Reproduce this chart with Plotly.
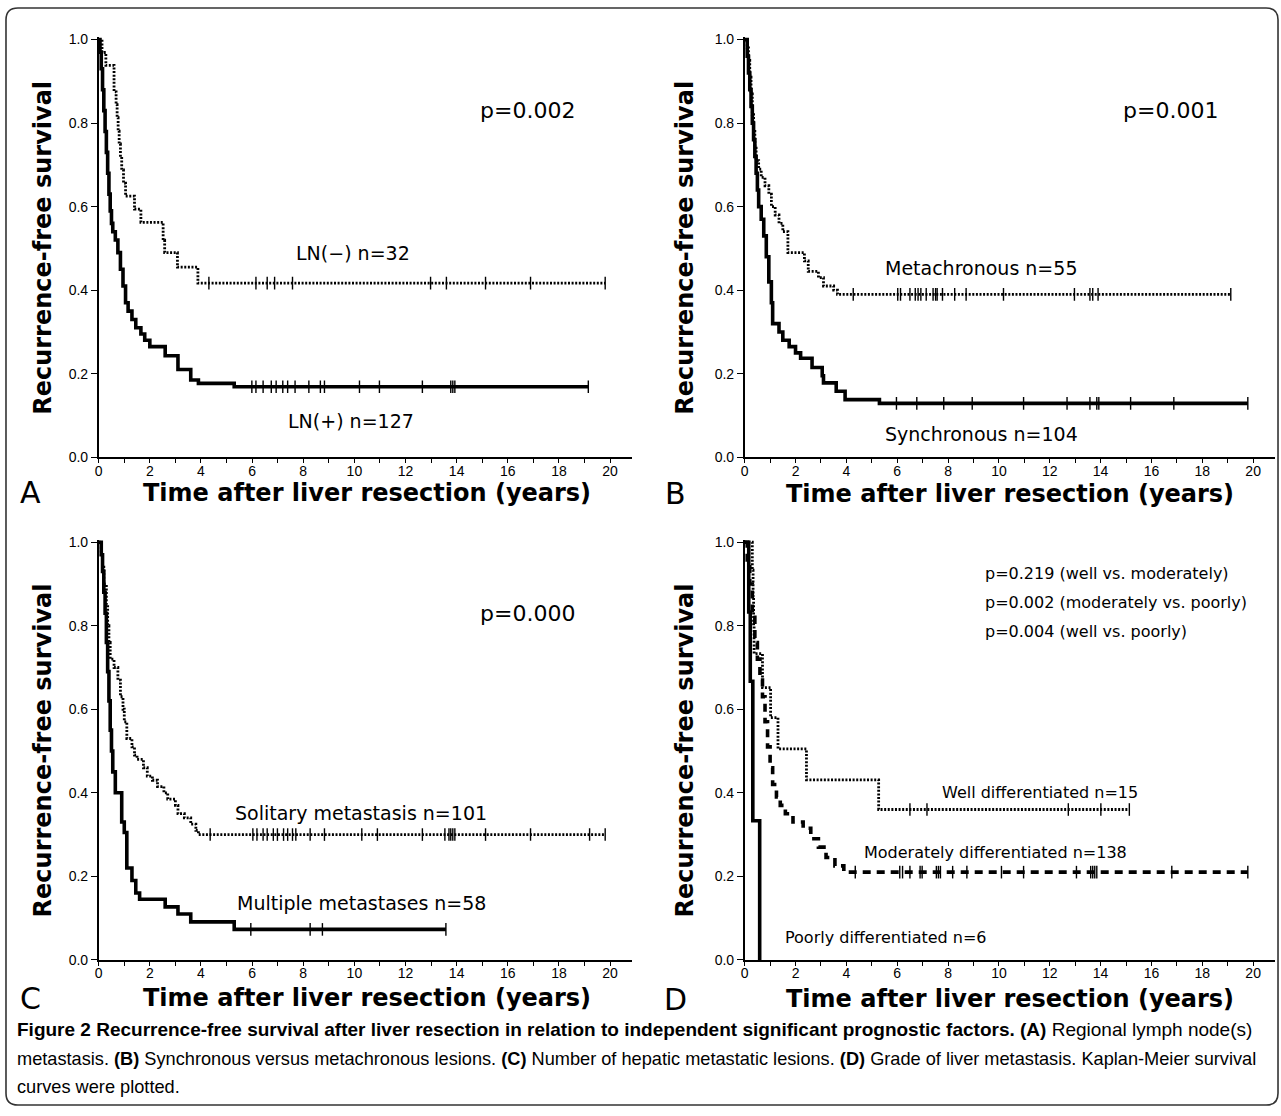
import numpy as np
import plotly.graph_objects as go
import re

W, H = 1281, 1116

# ---------------- DATA ----------------
# Panel A: lymph node metastasis
a_neg_t = [0, 0.13, 0.28, 0.60, 0.68, 0.72, 0.76, 0.80, 0.85, 0.90, 0.97, 1.05, 1.40, 1.65, 2.52, 2.58, 3.08, 3.88, 19.81]
a_neg_s = [1.0, 0.969, 0.938, 0.875, 0.844, 0.813, 0.781, 0.75, 0.719, 0.688, 0.656, 0.625, 0.594, 0.5625, 0.52, 0.49, 0.455, 0.417, 0.417]
a_neg_c = [4.31, 6.15, 6.59, 6.88, 7.58, 12.98, 13.6, 15.13, 16.89, 19.81]

a_pos_t = [0, 0.05, 0.10, 0.15, 0.20, 0.25, 0.30, 0.35, 0.40, 0.45, 0.50, 0.55, 0.65, 0.75, 0.85, 0.95, 1.05, 1.15, 1.30, 1.45, 1.65, 1.80, 2.00, 2.60, 3.10, 3.60, 3.90, 5.30, 19.15]
a_pos_s = [1.0, 0.97, 0.93, 0.88, 0.83, 0.78, 0.73, 0.68, 0.63, 0.59, 0.56, 0.54, 0.52, 0.49, 0.45, 0.41, 0.37, 0.35, 0.33, 0.31, 0.295, 0.28, 0.265, 0.243, 0.21, 0.185, 0.177, 0.169, 0.169]
a_pos_c = [5.99, 6.15, 6.43, 6.75, 6.94, 7.2, 7.39, 7.68, 8.22, 8.67, 8.83, 10.2, 10.98, 12.66, 13.77, 13.85, 13.93, 19.15]

# Panel B: synchronous vs metachronous
b_meta_t = [0, 0.10, 0.15, 0.20, 0.25, 0.30, 0.35, 0.40, 0.45, 0.55, 0.65, 0.80, 0.95, 1.05, 1.20, 1.35, 1.50, 1.70, 2.35, 2.50, 2.90, 3.10, 3.50, 3.65, 19.12]
b_meta_s = [1.0, 0.98, 0.95, 0.91, 0.87, 0.82, 0.78, 0.74, 0.71, 0.69, 0.67, 0.65, 0.63, 0.60, 0.58, 0.56, 0.54, 0.49, 0.47, 0.445, 0.43, 0.41, 0.40, 0.39, 0.39]
b_meta_c = [4.27, 6.02, 6.13, 6.5, 6.71, 6.82, 6.93, 7.14, 7.41, 7.51, 7.57, 7.78, 8.26, 8.71, 10.18, 12.97, 13.58, 13.69, 13.9, 19.12]

b_sync_t = [0, 0.10, 0.15, 0.20, 0.25, 0.30, 0.35, 0.40, 0.45, 0.50, 0.55, 0.65, 0.75, 0.85, 0.95, 1.05, 1.10, 1.35, 1.50, 1.75, 2.00, 2.20, 2.65, 3.05, 3.10, 3.60, 3.95, 5.30, 19.79]
b_sync_s = [1.0, 0.96, 0.92, 0.88, 0.84, 0.80, 0.76, 0.72, 0.68, 0.64, 0.60, 0.57, 0.53, 0.48, 0.42, 0.37, 0.32, 0.30, 0.28, 0.265, 0.25, 0.237, 0.215, 0.195, 0.178, 0.158, 0.138, 0.129, 0.129]
b_sync_c = [5.97, 6.77, 7.83, 8.95, 10.97, 12.68, 13.58, 13.85, 13.93, 15.18, 16.88, 19.79]

# Panel C: number of metastases
c_sol_t = [0, 0.10, 0.15, 0.20, 0.30, 0.35, 0.40, 0.45, 0.60, 0.75, 0.85, 0.95, 1.00, 1.10, 1.30, 1.40, 1.50, 1.75, 1.90, 2.10, 2.30, 2.55, 2.70, 3.00, 3.10, 3.35, 3.60, 3.80, 3.90, 19.81]
c_sol_s = [1.0, 0.97, 0.94, 0.90, 0.85, 0.80, 0.76, 0.72, 0.70, 0.67, 0.63, 0.60, 0.57, 0.53, 0.51, 0.49, 0.48, 0.46, 0.44, 0.43, 0.415, 0.40, 0.385, 0.37, 0.35, 0.34, 0.325, 0.31, 0.30, 0.30]
c_sol_c = [4.36, 6.03, 6.19, 6.43, 6.59, 6.83, 6.99, 7.23, 7.39, 7.58, 7.71, 8.27, 8.83, 10.29, 10.9, 12.66, 13.54, 13.7, 13.77, 13.85, 13.93, 15.13, 16.89, 19.2, 19.81]

c_mul_t = [0, 0.10, 0.15, 0.20, 0.25, 0.30, 0.35, 0.40, 0.45, 0.50, 0.55, 0.65, 0.90, 1.00, 1.10, 1.30, 1.45, 1.60, 2.60, 3.10, 3.60, 5.30, 13.58]
c_mul_s = [1.0, 0.97, 0.93, 0.88, 0.83, 0.76, 0.69, 0.62, 0.55, 0.50, 0.45, 0.40, 0.33, 0.305, 0.22, 0.19, 0.16, 0.145, 0.127, 0.11, 0.091, 0.073, 0.073]
c_mul_c = [5.95, 8.27, 8.75, 13.58]

# Panel D: grade of liver metastasis
d_well_t = [0, 0.30, 0.33, 0.35, 0.37, 0.70, 1.02, 1.31, 2.43, 5.27, 15.13]
d_well_s = [1.0, 0.933, 0.867, 0.80, 0.733, 0.652, 0.58, 0.505, 0.431, 0.36, 0.36]
d_well_c = [6.5, 7.17, 12.73, 14.01, 15.13]

d_mod_t = [0, 0.10, 0.20, 0.30, 0.40, 0.50, 0.60, 0.70, 0.80, 0.90, 1.00, 1.10, 1.25, 1.40, 1.60, 1.90, 2.30, 2.60, 2.90, 3.20, 3.55, 3.90, 19.79]
d_mod_s = [1.0, 0.95, 0.90, 0.82, 0.76, 0.72, 0.67, 0.63, 0.57, 0.51, 0.46, 0.42, 0.39, 0.37, 0.35, 0.33, 0.315, 0.29, 0.27, 0.245, 0.225, 0.21, 0.21]
d_mod_c = [4.35, 6.1, 6.21, 6.5, 6.9, 6.98, 7.54, 7.62, 7.7, 8.18, 8.74, 10.1, 10.97, 13.05, 13.61, 13.69, 13.77, 13.85, 16.8, 19.79]

d_poor_t = [0, 0.16, 0.22, 0.32, 0.59]
d_poor_s = [1.0, 0.833, 0.667, 0.333, 0.0]

x_tick_vals = [0, 2, 4, 6, 8, 10, 12, 14, 16, 18, 20]
y_tick_vals = [0.0, 0.2, 0.4, 0.6, 0.8, 1.0]

panel_letters = ["A", "B", "C", "D"]
p_texts = ["p=0.002", "p=0.001", "p=0.000"]
p_texts_d = ["p=0.219 (well vs. moderately)", "p=0.002 (moderately vs. poorly)", "p=0.004 (well vs. poorly)"]
y_title = "Recurrence-free survival"
x_title = "Time after liver resection (years)"

# ---------------- HELPERS ----------------
def px(x):
    return x / W

def py(y):
    return 1 - y / H

def surv_at(times, vals, c):
    idx = np.searchsorted(np.array(times), np.array(c), side="right") - 1
    return [vals[i] for i in idx]

SOLID = dict(color="black", width=3.6)
DOT = dict(color="black", width=2.8, dash="2px,1.6px")
DASH = dict(color="black", width=3.6, dash="8px,6px")

fig = go.Figure()

def add_curve(t, s, cens, line, ax):
    xa, ya = ax
    fig.add_trace(go.Scatter(x=t, y=s, mode="lines", line=line, line_shape="hv",
                             xaxis=xa, yaxis=ya, showlegend=False, hoverinfo="skip"))
    if cens:
        fig.add_trace(go.Scatter(x=cens, y=surv_at(t, s, cens), mode="markers",
                                 marker=dict(symbol="line-ns-open", size=9, color="black",
                                             line=dict(color="black", width=1.4)),
                                 xaxis=xa, yaxis=ya, showlegend=False, hoverinfo="skip"))

add_curve(a_neg_t, a_neg_s, a_neg_c, DOT, ("x", "y"))
add_curve(a_pos_t, a_pos_s, a_pos_c, SOLID, ("x", "y"))
add_curve(b_meta_t, b_meta_s, b_meta_c, DOT, ("x2", "y2"))
add_curve(b_sync_t, b_sync_s, b_sync_c, SOLID, ("x2", "y2"))
add_curve(c_sol_t, c_sol_s, c_sol_c, DOT, ("x3", "y3"))
add_curve(c_mul_t, c_mul_s, c_mul_c, SOLID, ("x3", "y3"))
add_curve(d_well_t, d_well_s, d_well_c, DOT, ("x4", "y4"))
add_curve(d_mod_t, d_mod_s, d_mod_c, DASH, ("x4", "y4"))
add_curve(d_poor_t, d_poor_s, None, SOLID, ("x4", "y4"))

# ---------------- AXES ----------------
XMAX = 20.86
YMAX = 1.006
TICKFONT = dict(family="Liberation Sans Narrow, Liberation Sans, sans-serif", size=14, color="black")

def xaxis(x0, x1, anchor):
    return dict(domain=[px(x0), px(x1)], range=[0, XMAX], anchor=anchor,
                showline=True, linecolor="black", linewidth=1.5, showgrid=False, zeroline=False,
                tickmode="array", tickvals=x_tick_vals, ticks="outside", ticklen=0,
                minor=dict(ticks="outside", ticklen=4, tickwidth=1.2, tickcolor="black",
                           tickmode="linear", tick0=0, dtick=1, showgrid=False),
                tickfont=TICKFONT, fixedrange=True)

def yaxis(top1, bottom0, anchor):
    ppu = (bottom0 - top1)
    top = bottom0 - ppu * YMAX
    return dict(domain=[py(bottom0), py(top)], range=[0, YMAX], anchor=anchor,
                showline=True, linecolor="black", linewidth=1.5, showgrid=False, zeroline=False,
                tickmode="array", tickvals=y_tick_vals, tickformat=".1f",
                ticks="outside", ticklen=6, tickwidth=1.2, tickcolor="black",
                tickfont=TICKFONT, fixedrange=True)

fig.update_layout(
    width=W, height=H, margin=dict(l=0, r=0, t=0, b=0),
    paper_bgcolor="white", plot_bgcolor="white",
    xaxis=xaxis(95, 630, "y"), yaxis=yaxis(34, 457, "x"),
    xaxis2=xaxis(743, 1275, "y2"), yaxis2=yaxis(34, 457, "x2"),
    xaxis3=xaxis(95, 630, "y3"), yaxis3=yaxis(543, 966, "x3"),
    xaxis4=xaxis(743, 1275, "y4"), yaxis4=yaxis(543, 966, "x4"),
)

# ---------------- TEXT ----------------
ANN_FONT = "DejaVu Sans, sans-serif"
anns = []

def ann(text, x, y, size, xanchor="center", bold=False, angle=0, family=ANN_FONT):
    anns.append(dict(text=text, x=px(x), y=py(y), xref="paper", yref="paper",
                     xanchor=xanchor, yanchor="middle", showarrow=False, textangle=angle,
                     font=dict(family=family, size=size, color="black",
                               weight="bold" if bold else "normal")))

for (ytx, yty, xtx, xty, lx, ly, L) in [
    (39, 245, 364, 493, 27, 493, panel_letters[0]),
    (683, 245, 1009, 494, 674, 494, panel_letters[1]),
    (39, 754, 364, 1005, 27, 1005, panel_letters[2]),
    (683, 754, 1009, 1006, 674, 1006, panel_letters[3]),
]:
    ann(y_title, ytx, yty, 24, bold=True, angle=-90)
    ann(x_title, xtx, xty, 24, bold=True)
    ann(L, lx, ly, 30)

ann(p_texts[0], 475, 106, 22, xanchor="left")
ann(p_texts[1], 1120, 106, 22, xanchor="left")
ann(p_texts[2], 475, 615, 22, xanchor="left")
for i, t in enumerate(p_texts_d):
    ann(t, 982, 575 + 29 * i, 16, xanchor="left")

ann("LN(−) n=32", 291, 250, 19, xanchor="left")
ann("LN(+) n=127", 283, 420, 19, xanchor="left")
ann("Metachronous n=55", 882, 265, 19, xanchor="left")
ann("Synchronous n=104", 882, 433, 19, xanchor="left")
ann("Solitary metastasis n=101", 230, 817, 19, xanchor="left")
ann("Multiple metastases n=58", 232, 908, 19, xanchor="left")
ann("Well differentiated n=15", 939, 796, 16, xanchor="left")
ann("Moderately differentiated n=138", 861, 857, 16, xanchor="left")
ann("Poorly differentiated n=6", 781, 943, 16, xanchor="left")

CAP = "Liberation Sans Narrow, Liberation Sans, sans-serif"
cap_lines = [
    "<b>Figure 2 Recurrence-free survival after liver resection in relation to independent significant prognostic factors. (A)</b> Regional lymph node(s)",
    "metastasis. <b>(B)</b> Synchronous versus metachronous lesions. <b>(C)</b> Number of hepatic metastatic lesions. <b>(D)</b> Grade of liver metastasis. Kaplan-Meier survival",
    "curves were plotted.",
]
cap_sizes = [19.0, 18.2, 18.2]
for i, line in enumerate(cap_lines):
    ann(line, 11, 1037 + 29 * i, cap_sizes[i], xanchor="left", family=CAP)

fig.update_layout(annotations=anns)

# rounded border
x0, y0, x1, y1, r = 2, 2, 1278, 1113, 12
path = (f"M {x0+r},{y0} L {x1-r},{y0} Q {x1},{y0} {x1},{y0+r} L {x1},{y1-r} Q {x1},{y1} {x1-r},{y1} "
        f"L {x0+r},{y1} Q {x0},{y1} {x0},{y1-r} L {x0},{y0+r} Q {x0},{y0} {x0+r},{y0} Z")

def conv(m):
    xv, yv = float(m.group(1)), float(m.group(2))
    return f"{px(xv):.5f},{py(yv):.5f}"

path_paper = re.sub(r"([\d.]+),([\d.]+)", conv, path)
fig.add_shape(type="path", path=path_paper, xref="paper", yref="paper",
              line=dict(color="#333333", width=1.6), layer="above")

fig.write_html("out.html", config={"displayModeBar": False},
               post_script="document.body.style.margin='0';document.body.style.padding='0';"
                           "document.body.style.overflow='hidden';")
